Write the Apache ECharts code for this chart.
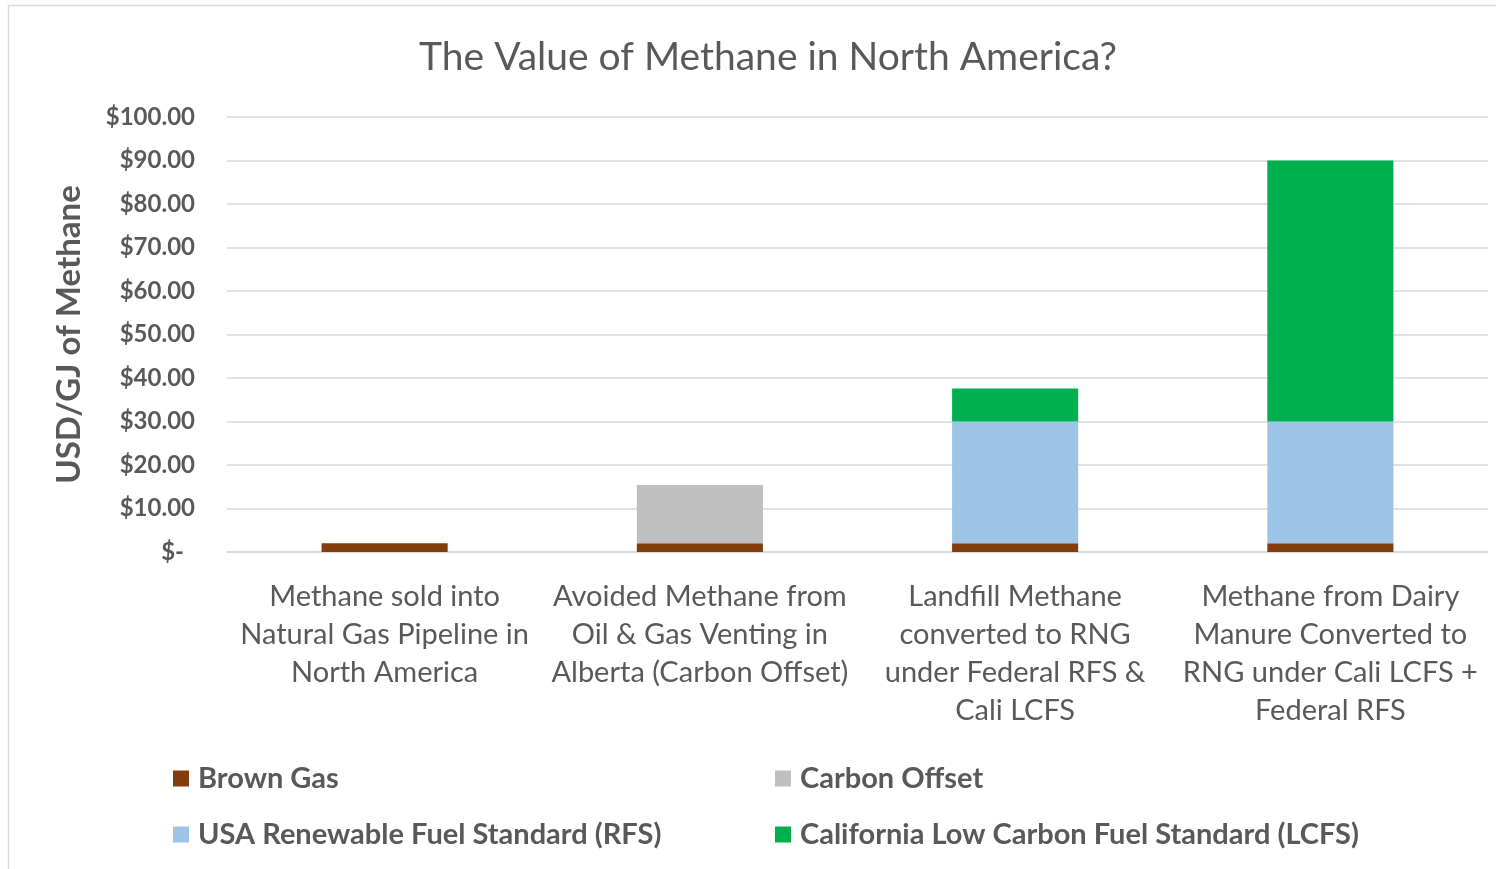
<!DOCTYPE html>
<html>
<head>
<meta charset="utf-8">
<script src="https://cdn.jsdelivr.net/npm/echarts@6/dist/echarts.min.js"></script>
<style>
html,body{margin:0;padding:0;background:#fff;}
#chart{width:1496px;height:869px;}
</style>
</head>
<body>
<div id="chart"></div>
<script>
const categories = [
  "Methane sold into\nNatural Gas Pipeline in\nNorth America",
  "Avoided Methane from\nOil & Gas Venting in\nAlberta (Carbon Offset)",
  "Landfill Methane\nconverted to RNG\nunder Federal RFS &\nCali LCFS",
  "Methane from Dairy\nManure Converted to\nRNG under Cali LCFS +\nFederal RFS"
];
const seriesNames = ["Brown Gas", "Carbon Offset", "USA Renewable Fuel Standard (RFS)", "California Low Carbon Fuel Standard (LCFS)"];
const brownGas = [2, 2, 2, 2];
const carbonOffset = [0, 13.4, 0, 0];
const rfs = [0, 0, 28, 28];
const lcfs = [0, 0, 7.6, 60];
const colors = ["#843C0C", "#BFBFBF", "#9DC3E6", "#00B050"];

const FONT = "Lato, 'Noto Sans', sans-serif";
const TXT = "#595959";

const chart = echarts.init(document.getElementById('chart'));
const dataSets = [brownGas, carbonOffset, rfs, lcfs];
const legendPos = [[168, 759], [770, 759], [168, 815], [770, 815]];

chart.setOption({
  animation: false,
  backgroundColor: '#fff',
  textStyle: { fontFamily: FONT },
  graphic: [{
    type: 'rect', shape: { x: 8.5, y: 5.5, width: 1600, height: 1000 },
    style: { fill: 'none', stroke: '#D9D9D9', lineWidth: 1.5 }, silent: true, z: -10
  }],
  title: {
    text: 'The Value of Methane in North America?',
    left: 763, top: 33, textAlign: 'center',
    textStyle: { fontFamily: FONT, fontSize: 39, fontWeight: 'normal', color: TXT }
  },
  legend: seriesNames.map((n, i) => ({
    data: [n], left: legendPos[i][0], top: legendPos[i][1],
    itemWidth: 16, itemHeight: 16, icon: 'rect', itemGap: 10,
    textStyle: { fontFamily: FONT, fontSize: 29, fontWeight: 'bold', color: TXT, padding: [0, 0, 0, 4] }
  })),
  grid: { left: 227, right: 8, top: 117, bottom: 869 - 552, containLabel: false },
  xAxis: {
    type: 'category', data: categories,
    axisLine: { show: true, lineStyle: { color: '#D9D9D9', width: 1.5 } },
    axisTick: { show: false },
    axisLabel: { interval: 0, fontFamily: FONT, fontSize: 29, color: TXT, lineHeight: 38, margin: 26 }
  },
  yAxis: {
    type: 'value', min: 0, max: 100, interval: 10,
    name: 'USD/GJ of Methane', nameLocation: 'middle', nameGap: 141, nameRotate: 90,
    nameTextStyle: { fontFamily: FONT, fontSize: 33, fontWeight: 'bold', color: TXT },
    axisLine: { show: false }, axisTick: { show: false },
    splitLine: { lineStyle: { color: '#D9D9D9', width: 1.5 } },
    axisLabel: {
      fontFamily: FONT, fontSize: 24, fontWeight: 'bold', color: TXT, margin: 32,
      formatter: v => v === 0 ? '{z|$-}' : '$' + v.toFixed(2),
      rich: { z: { fontFamily: FONT, fontSize: 24, fontWeight: 'bold', color: TXT, padding: [0, 11, 0, 0] } }
    }
  },
  series: seriesNames.map((n, i) => ({
    name: n, type: 'bar', stack: 'total', data: dataSets[i],
    barWidth: '40%', itemStyle: { color: colors[i] }
  }))
});
</script>
</body>
</html>
